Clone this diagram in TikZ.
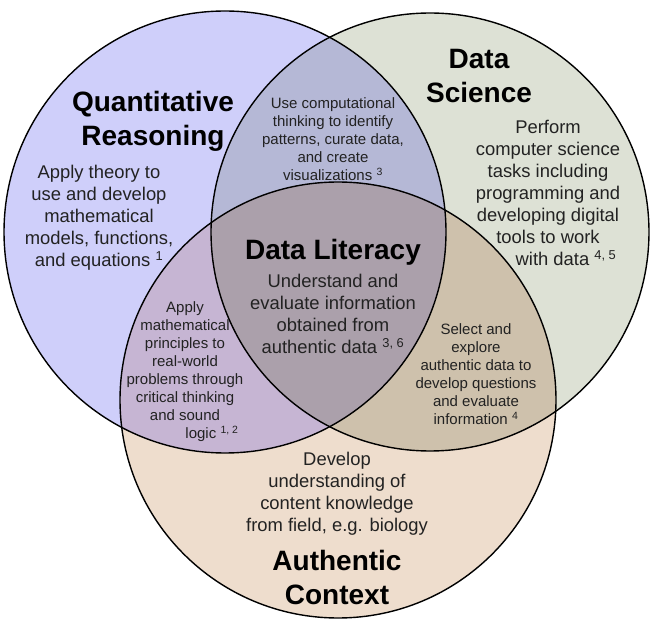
\documentclass[tikz,border=0pt]{standalone}
\usepackage{fontspec}
\setmainfont{Liberation Sans}
\definecolor{qrc}{HTML}{CFCFFA}
\definecolor{dsc}{HTML}{DDE1D5}
\definecolor{acc}{HTML}{EEDDCD}
\definecolor{qrds}{HTML}{B5B8D6}
\definecolor{qrac}{HTML}{C6B5D3}
\definecolor{dsac}{HTML}{CEC1AC}
\definecolor{midc}{HTML}{ABA0AB}
\definecolor{txt}{HTML}{222222}
\begin{document}
\begin{tikzpicture}[x=1pt,y=-1pt,
  titletext/.style={font=\fontsize{28}{34}\selectfont\bfseries, align=center, text=black, inner sep=0pt},
  bodytext/.style={font=\fontsize{18.4}{22}\selectfont, align=center, text=txt, inner sep=0pt},
  smalltext/.style={font=\fontsize{15}{18}\selectfont, align=center, text=txt, inner sep=0pt},
  ring/.style={draw=black, line width=1.4pt}]
\useasboundingbox[fill=white] (0,0) rectangle (651,620);
\coordinate (cq) at (225,232);
\coordinate (cd) at (430,232);
\coordinate (ca) at (338,400);
\def\rq{221}\def\rd{219}\def\ra{218}
% base fills
\fill[qrc] (cq) circle[radius=\rq];
\fill[dsc] (cd) circle[radius=\rd];
\fill[acc] (ca) circle[radius=\ra];
% pairwise overlaps
\begin{scope}\clip (cq) circle[radius=\rq]; \fill[qrds] (cd) circle[radius=\rd];\end{scope}
\begin{scope}\clip (cq) circle[radius=\rq]; \fill[qrac] (ca) circle[radius=\ra];\end{scope}
\begin{scope}\clip (cd) circle[radius=\rd]; \fill[dsac] (ca) circle[radius=\ra];\end{scope}
\begin{scope}\clip (cq) circle[radius=\rq]; \clip (cd) circle[radius=\rd]; \fill[midc] (ca) circle[radius=\ra];\end{scope}
% outlines
\draw[ring] (cq) circle[radius=\rq];
\draw[ring] (cd) circle[radius=\rd];
\draw[ring] (ca) circle[radius=\ra];
% titles
\node[titletext] (qrt) at (153,121) {Quantitative\\Reasoning};
\node[titletext] (dst) at (479,76) {Data\\Science};
\node[titletext] (act) at (337,577) {Authentic\\Context};
\node[titletext] (dlt) at (333,252) {Data Literacy};
% bodies
\node[bodytext] (qrb) at (99,218) {Apply theory to\\use and develop\\mathematical\\models, functions,\\and equations \textsuperscript{1}};
\node[bodytext] (dsb) at (548,193) {Perform\\computer science\\tasks including\\programming and\\developing digital\\tools to work\\\hspace*{36pt}with data \textsuperscript{4, 5}};
\node[bodytext] (dlb) at (333,314) {Understand and\\evaluate information\\obtained from\\authentic data \textsuperscript{3, 6}};
\node[bodytext] (acb) at (337,494) {Develop\\understanding of\\content knowledge\\from field, e.g. biology};
% overlap texts
\node[smalltext] (qdb) at (333,139) {Use computational\\thinking to identify\\patterns, curate data,\\and create\\visualizations \textsuperscript{3}};
\node[smalltext] (qab) at (185,372) {Apply\\mathematical\\principles to\\real-world\\problems through\\critical thinking\\and sound\\\hspace*{54pt}logic \textsuperscript{1, 2}};
\node[smalltext] (dab) at (476,374) {Select and\\explore\\authentic data to\\develop questions\\and evaluate\\information \textsuperscript{4}};
\end{tikzpicture}
\end{document}
